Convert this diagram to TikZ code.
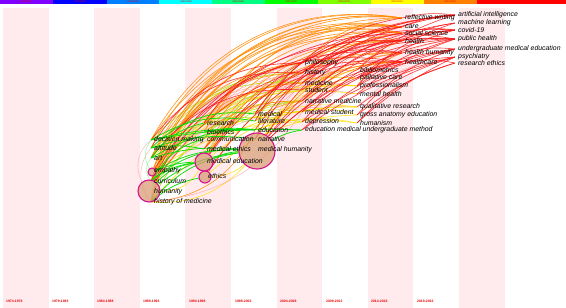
\documentclass[tikz,border=0pt]{standalone}
\usepackage{fontspec}
\setmainfont{Liberation Sans}
\pgfdeclarelayer{stripes}
\pgfdeclarelayer{edges}
\pgfsetlayers{stripes,edges,main}
\definecolor{stripe}{RGB}{255,234,238}
\definecolor{barA}{RGB}{128,0,255}
\definecolor{barB}{RGB}{0,0,255}
\definecolor{barC}{RGB}{0,128,255}
\definecolor{barD}{RGB}{0,255,255}
\definecolor{barE}{RGB}{0,255,128}
\definecolor{barF}{RGB}{0,255,0}
\definecolor{barG}{RGB}{128,255,0}
\definecolor{barH}{RGB}{255,255,0}
\definecolor{barI}{RGB}{255,128,0}
\definecolor{barJ}{RGB}{255,0,0}
\definecolor{cG}{RGB}{0,220,0}
\definecolor{cLG}{RGB}{140,235,140}
\definecolor{cYG}{RGB}{170,230,0}
\definecolor{cY}{RGB}{255,225,0}
\definecolor{cO}{RGB}{255,140,0}
\definecolor{cR}{RGB}{250,20,20}
\definecolor{cP}{RGB}{255,120,120}
\definecolor{ring}{RGB}{215,20,140}
\definecolor{tan}{RGB}{215,150,110}
\definecolor{yr}{RGB}{230,0,0}
\begin{document}
\begin{tikzpicture}[x=1pt,y=-1pt,
  pt/.style={circle,inner sep=0pt,minimum size=0pt},
  bub/.style={circle,inner sep=0pt,draw=ring,fill=tan,fill opacity=0.7,line width=1.1pt},
  lab/.style={anchor=west,inner sep=0pt,text=black,font=\fontsize{6.9}{7}\selectfont\itshape},
  yrlab/.style={anchor=west,inner sep=0pt,text=yr,font=\fontsize{3.4}{4}\selectfont\bfseries},
  barlab/.style={inner sep=0pt,text=yr,font=\fontsize{2.4}{3}\selectfont},
  eG/.style={draw=cG,line width=0.8pt,opacity=0.9},
  eLG/.style={draw=cLG,line width=0.5pt,opacity=0.8},
  eYG/.style={draw=cYG,line width=0.6pt,opacity=0.85},
  eY/.style={draw=cY,line width=0.6pt,opacity=0.85},
  eO/.style={draw=cO,line width=0.6pt,opacity=0.9},
  eR/.style={draw=cR,line width=0.6pt,opacity=0.85},
  eP/.style={draw=cP,line width=0.4pt,opacity=0.6}]
\useasboundingbox (0,0) rectangle (566,308);
% stripes
\begin{pgfonlayer}{stripes}
\fill[white] (0,0) rectangle (566,308);
\foreach \i in {0,2,4,6,8,10}
  \fill[stripe] ({3+45.6*\i},8) rectangle ({3+45.6*(\i+1)},308);
\foreach \c/\a/\b in {barA/0/53,barB/53/107,barC/107/159,barD/159/212,barE/212/265,barF/265/318,barG/318/371,barH/371/424,barI/424/477,barJ/477/566}
  \fill[\c] (\a,0) rectangle (\b,4);
\end{pgfonlayer}
% colour bar labels
\foreach \t/\x [count=\k] in {1974-1978/26,1979-1983/80,1984-1988/133,1989-1993/186,1994-1998/238,1999-2003/291,2004-2008/344,2009-2013/397,2014-2018/450}
  \node[barlab] (bl\k) at (\x,2) {\t};
% time slice labels
\foreach \t/\x [count=\k] in {1974-1978/6,1979-1983/52,1984-1988/97,1989-1993/143,1994-1998/189,1999-2003/235,2004-2008/280,2009-2013/326,2014-2018/371,2019-2022/417}
  \node[yrlab] (yl\k) at (\x,301) {\t};
% bubble nodes
\foreach \n/\x/\y/\d/\lx/\ly/\t in {
  hum/149/191/22/154/192/humanity,
  mh/257/151/36/258/150/medical humanity,
  med/204/162/18/207/161/medical education,
  eth/205/177/12/208/176/ethics,
  emp/152/172/8/154/171/empathy}{
  \node[bub,minimum size=\d pt] (\n) at (\x,\y) {};
  \node[lab] (\n-t) at (\lx,\ly) {\t};
}
% plain nodes
\foreach \n/\x/\y/\lx/\t in {
  dm/151/140/154/decision making,
  att/151/148/154/attitude,
  art/151/158/154/art,
  cur/151/181/154/curriculum,
  hom/151/202/154/history of medicine,
  res/204/123/207/research,
  bio/204/132/207/bioethics,
  com/204/139/207/communication,
  mee/204/149/207/medical ethics,
  mdc/255/114/258/medical,
  lit/255/121/258/literature,
  edu/255/130/258/education,
  nar/255/139/258/narrative,
  phi/302/63/305/philosophy,
  his/302/73/305/history,
  mdn/302/83/305/medicine,
  stu/302/90/305/student,
  nm/302/101/305/narrative medicine,
  ms/302/112/305/medical student,
  dep/302/122/305/depression,
  emu/302/130/305/education medical undergraduate method,
  bib/357/70/360/bibliometrics,
  pal/357/78/360/palliative care,
  pro/357/86/360/professionalism,
  mnt/357/94/360/mental health,
  qr/357/107/360/qualitative research,
  gae/357/115/360/gross anatomy education,
  hsm/357/123/360/humanism,
  rw/402/18/405/reflective writing,
  car/402/27/405/care,
  ss/402/33/405/social science,
  hea/402/41/405/health,
  hh/402/53/405/health humanity,
  hc/402/62/405/healthcare,
  ai/455/15/458/artificial intelligence,
  ml/455/23/458/machine learning,
  cov/455/30/458/covid-19,
  ph/455/39/458/public health,
  ume/455/49/458/undergraduate medical education,
  psy/455/57/458/psychiatry,
  re/455/63/458/research ethics}{
  \node[pt] (\n) at (\x,\y) {};
  \node[lab] (\n-t) at (\lx,\y) {\t};
}
% connectors
\begin{pgfonlayer}{edges}
\foreach \a/\b/\s/\k in {
  hum/dm/eP/40, hom/att/eP/40, cur/art/eLG/40, emp/dm/eLG/35, hom/res/eLG/30, hum/bio/eLG/30, emp/lit/eLG/25,
  hom/phi/eP/32, hum/his/eP/30, art/mdn/eP/28, cur/nm/eP/25, emp/pro/eP/28, hom/bib/eP/30, mh/ss/eP/25, med/car/eP/30,
  mdn/hea/eP/18, stu/hh/eP/15, dep/hc/eP/15, qr/ume/eP/12, mnt/psy/eP/12, pal/ph/eP/12, pro/cov/eP/15, nm/ai/eP/22,
  ms/ss/eP/20, edu/hh/eP/22, lit/hea/eP/25, res/his/eP/20, bio/phi/eP/25, com/mdn/eP/20, mee/stu/eP/18,
  hum/bib/eP/28, emp/pal/eP/28, att/pro/eP/26, dm/mnt/eP/22, cur/qr/eP/22,
  hom/mh/eY/-25, hum/med/eY/-30, eth/mh/eY/-20, hom/edu/eO/-30, hom/ms/eP/-25,
  hum/phi/eYG/30, art/his/eYG/30, emp/nm/eYG/25, cur/stu/eYG/25, att/dep/eYG/20, bio/ms/eYG/20, mee/nm/eYG/20,
  dm/mdn/eYG/25, hum/ms/eYG/25, mh/phi/eYG/25, med/his/eYG/25, res/stu/eYG/20, hom/nm/eYG/30,
  hum/pro/eY/30, med/qr/eY/20, mh/bib/eY/25, emp/hsm/eY/20, eth/gae/eY/20, mh/pal/eY/25, art/mnt/eY/25,
  nm/pro/eY/20, ms/gae/eY/15, edu/hsm/eY/15, mee/pro/eY/25, hom/qr/eY/25, cur/pal/eY/30, lit/qr/eY/15,
  com/ms/eY/15, edu/dep/eY/10,
  hum/rw/eO/40, hom/rw/eO/42, emp/rw/eO/38, cur/car/eO/38, dm/rw/eO/35, mh/hh/eO/25, med/hea/eO/30,
  art/ss/eO/35, nm/hc/eO/20, phi/rw/eO/20, his/car/eO/20, pro/hh/eO/15, mdn/ss/eO/20, mee/hea/eO/30,
  stu/hc/eO/15, res/car/eO/30, bib/hea/eO/15,
  hum/hea/eO/40, emp/car/eO/38, cur/ss/eO/36, att/rw/eO/36, art/car/eO/37, hom/car/eO/40, dm/ss/eO/33,
  bio/rw/eO/30, com/hea/eO/30, mee/hh/eO/28, med/hh/eO/28, eth/hc/eO/28, res/ss/eO/28,
  hum/mdn/eO/30, emp/his/eO/32, cur/phi/eO/33, res/mdn/eO/20, bio/nm/eO/18, lit/nm/eO/15, nar/nm/eO/12,
  mh/ai/eR/25, med/cov/eR/30, hum/ph/eR/35, hh/ume/eR/10, hc/re/eR/10, mh/psy/eR/20, pro/ml/eR/15,
  nm/cov/eR/20, mdn/ph/eR/20, rw/ai/eR/10, phi/hh/eR/15, his/hea/eR/15, edu/ai/eR/25, mh/hc/eR/20,
  ms/hh/eR/15, dep/ph/eR/20, nar/ss/eR/25, lit/rw/eR/25, mdc/car/eR/25, pal/hc/eR/10, qr/psy/eR/10,
  gae/ume/eR/15, hsm/re/eR/15, emu/ume/eR/15, ss/cov/eR/10, hea/ml/eR/10, car/ai/eR/10, res/phi/eR/25,
  hum/hc/eR/30, emp/hh/eR/30, cur/hea/eR/32, art/hc/eR/30, mee/hc/eR/25, med/ph/eR/28, mh/cov/eR/22,
  mh/ume/eR/18, eth/ph/eR/28, nm/ph/eR/18, stu/ml/eR/15, his/ai/eR/15, phi/ai/eR/12, phi/car/eR/10,
  his/ss/eR/12, mdn/cov/eR/15, ms/ume/eR/12, dep/psy/eR/10, emu/psy/eR/10, hsm/psy/eR/8, gae/re/eR/10,
  bib/ai/eR/12, pal/cov/eR/10, pro/ph/eR/10, mnt/ph/eR/10, art/stu/eR/28, att/phi/eR/30, dm/his/eR/28,
  mdc/his/eR/18,
  hum/mh/eG/15, hom/mh/eG/20, art/mh/eG/10, dm/edu/eG/8, dm/emu/eG/6, att/mee/eG/10, cur/med/eG/15,
  emp/med/eG/10, hum/med/eG/20, art/edu/eG/15, att/nar/eG/12, emp/mh/eG/15, hum/com/eG/25, cur/mh/eG/20,
  art/res/eG/20, dm/lit/eG/20, att/mdc/eG/25, med/mh/eG/10, hom/eth/eG/15, bio/edu/eG/10, mh/emu/eG/10}
  \draw[\s] (\a) to[bend left=\k] (\b);
\end{pgfonlayer}
\end{tikzpicture}
\end{document}
